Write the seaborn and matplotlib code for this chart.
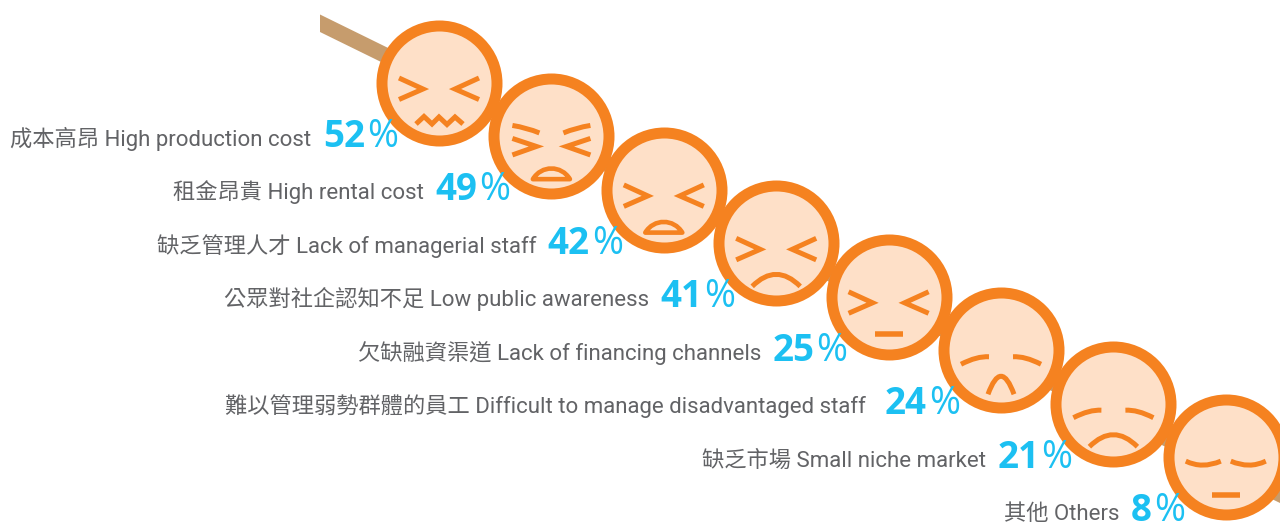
import numpy as np
import pandas as pd
import matplotlib
matplotlib.use("Agg")
import matplotlib.pyplot as plt
from matplotlib.path import Path
from matplotlib.patches import PathPatch, Polygon
from matplotlib.transforms import Affine2D
import seaborn as sns

labels = ["成本高昂 High production cost", "租金昂貴 High rental cost", "缺乏管理人才 Lack of managerial staff",
          "公眾對社企認知不足 Low public awareness", "欠缺融資渠道 Lack of financing channels",
          "難以管理弱勢群體的員工 Difficult to manage disadvantaged staff", "缺乏市場 Small niche market", "其他 Others"]
values = [52, 49, 42, 41, 25, 24, 21, 8]
eyes = ["squint", "squint_brow", "squint", "squint", "squint", "brow", "brow", "closed"]
mouths = ["zigzag", "open", "open", "frown", "flat", "narrow", "frown", "flat"]

ORANGE, PEACH, BLUE, GREY, TAN = "#F58220", "#FEE0C8", "#1CC0F2", "#626366", "#C69C6D"
W, H = 1280, 522
STEP_X, STEP_Y, X0, Y0 = 112.4, 53.45, 439, 83

sns.set_theme(style="white")
plt.rcParams["font.family"] = ["Roboto", "Noto Sans CJK TC", "DejaVu Sans"]

fig = plt.figure(figsize=(W / 100, H / 100), dpi=100, facecolor="white")
ax = fig.add_axes([0, 0, 1, 1])
ax.set_xlim(-X0 / STEP_X, (W - X0) / STEP_X)
ax.set_ylim((H - Y0) / STEP_Y, -Y0 / STEP_Y)
ax.axis("off")

df = pd.DataFrame({"rank": np.arange(len(values)), "value": values, "label": labels})

# pixel coordinates (origin top left)
pix = Affine2D().scale(1, -1).translate(0, H)
ax.add_patch(Polygon([(320, 14.5), (1280, 486), (1280, 503), (320, 32)], closed=True, fc=TAN, ec="none",
                     transform=pix, zorder=1))

diam_pt = 115 * 72 / 100
sns.scatterplot(data=df, x="rank", y="rank", s=diam_pt ** 2, color=PEACH, edgecolor=ORANGE,
                linewidth=11 * 72 / 100, legend=False, ax=ax, zorder=2, clip_on=False)
ax.set_xlabel(""); ax.set_ylabel("")


def draw(cx, cy, verts, codes, lw=5, fc="none", join="miter", zorder=3):
    path = Path(verts, codes)
    tr = Affine2D().translate(cx, cy) + pix
    ax.add_patch(PathPatch(path, fc=fc, ec=ORANGE, lw=lw * 0.72, transform=tr, zorder=zorder,
                           capstyle="butt", joinstyle=join))


def poly(cx, cy, pts, **kw):
    draw(cx, cy, pts, [Path.MOVETO] + [Path.LINETO] * (len(pts) - 1), **kw)


def arc(cx, cy, a, peak, b, **kw):
    a, peak, b = np.array(a, float), np.array(peak, float), np.array(b, float)
    ctrl = 2 * peak - (a + b) / 2
    draw(cx, cy, [a, ctrl, b], [Path.MOVETO, Path.CURVE3, Path.CURVE3], **kw)


def mirror(p):
    return [(-x, y) for x, y in p]


def face(cx, cy, eye, mouth):
    if eye == "squint":
        e = [(-40, -5), (-16, 6), (-40, 16.5)]
        poly(cx, cy, e); poly(cx, cy, mirror(e))
    if eye == "squint_brow":
        e = [(-39, 2), (-15, 10), (-39, 18.5)]
        poly(cx, cy, e); poly(cx, cy, mirror(e))
        b = [(-39, -11), (-25, -8), (-12, -3.5)]
        arc(cx, cy, *b); arc(cx, cy, *mirror(b))
    if eye == "brow":
        b = [(-40, 14), (-25, 8), (-12, 6.5)]
        arc(cx, cy, *b); arc(cx, cy, *mirror(b))
    if eye == "closed":
        b = [(-40, 4), (-23, 8), (-5, 4)]
        arc(cx, cy, *b); arc(cx, cy, *mirror(b))

    if mouth == "zigzag":
        poly(cx, cy, [(-23, 41), (-15, 33.5), (-7, 41), (0, 34), (8, 41.5), (16, 34), (24, 41)])
    elif mouth == "open":
        draw(cx, cy, [(-18.5, 42.7), (-10, 28.5), (10, 28.5), (18.5, 42.7), (-18.5, 42.7)],
             [Path.MOVETO, Path.CURVE4, Path.CURVE4, Path.CURVE4, Path.CLOSEPOLY], lw=4.6, fc=PEACH, join="round")
    elif mouth == "frown":
        arc(cx, cy, (-24, 43), (0, 31), (24, 43))
    elif mouth == "flat":
        poly(cx, cy, [(-14, 37.5), (14, 37.5)], lw=5.5)
    elif mouth == "narrow":
        arc(cx, cy, (-13, 44), (0, 26), (13, 44))


fig.canvas.draw()
rend = fig.canvas.get_renderer()
for i, row in df.iterrows():
    cx, cy = pix.inverted().transform(ax.transData.transform((row["rank"], row["rank"])))
    face(cx, cy, eyes[i], mouths[i])
    base = cy + 64
    tx = lambda x, y: Affine2D().translate(x, y) + pix
    ax.text(0, 0, "%", transform=tx(cx - 41, base), ha="right", va="baseline", color=BLUE,
            fontsize=27, family="Open Sans", zorder=5)
    d = ax.text(0, 0, str(row["value"]), transform=tx(cx - 74, base), ha="right", va="baseline", color=BLUE,
                fontsize=26.5, family="Open Sans", fontweight="bold", zorder=5)
    left = d.get_window_extent(rend).x0
    gap = 19 if i == 5 else 11.5
    ax.text(0, 0, row["label"], transform=tx(left - gap, base - 1), ha="right", va="baseline", color=GREY,
            fontsize=16, zorder=5)

fig.savefig("out.png", dpi=100)
